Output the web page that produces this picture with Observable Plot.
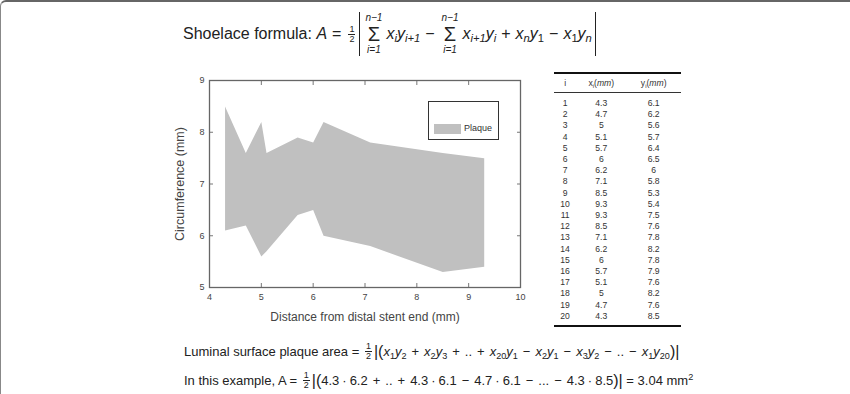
<!DOCTYPE html>
<html>
<head>
<meta charset="utf-8">
<script src="https://cdn.jsdelivr.net/npm/d3@7"></script>
<script src="https://cdn.jsdelivr.net/npm/@observablehq/plot@0.6"></script>
<style>
  html, body { margin: 0; padding: 0; background: #fff; }
  #page { position: relative; width: 850px; height: 394px; overflow: hidden; font-family: "Liberation Sans", Arial, sans-serif; color: #222; box-sizing: border-box; border-left: 1px solid #888; border-top: 2px solid #666; border-top-left-radius: 6px; }
  .abs-pos { position: absolute; }
  #f1 { left: 182px; top: 9px; height: 46px; display: flex; align-items: center; font-size: 16px; white-space: nowrap; }
  .m { font-style: italic; }
  sub { font-size: 0.7em; vertical-align: -0.3em; line-height: 0; }
  sup { font-size: 0.7em; vertical-align: 0.5em; line-height: 0; }
  .frac { display: inline-flex; flex-direction: column; align-items: center; vertical-align: middle; font-size: 9px; line-height: 1; margin: 0 2px; }
  .frac span:first-child { border-bottom: 1px solid #222; padding: 0 1px; }
  .abs { display: inline-flex; align-items: center; border-left: 1px solid #222; border-right: 1px solid #222; height: 44px; padding: 0 3px 0 3px; margin-left: 2px; }
  .sum { display: inline-flex; flex-direction: column; align-items: center; justify-content: center; height: 44px; margin: 0 4px 0 2px; }
  .sum .lim { font-size: 10px; font-style: italic; line-height: 10px; height: 10px; }
  .sum .sig { font-size: 20px; line-height: 22px; height: 22px; font-style: normal; }
  .op { margin: 0 5px; }
  #chart { left: 150px; top: 65px; }
  #legend { left: 427px; top: 99px; width: 71px; height: 39px; border: 1px solid #333; box-sizing: border-box; background: #fff; }
  #legend .sw { position: absolute; left: 5px; top: 22px; width: 27px; height: 10px; background: #c0c0c0; }
  #legend .lb { position: absolute; left: 35px; top: 21px; font-size: 9px; color: #333; }
  #tbl { left: 553px; top: 70px; width: 127px; font-size: 8.6px; color: #333; }
  #tbl table { border-collapse: collapse; width: 100%; table-layout: fixed; border-top: 2px solid #111; border-bottom: 2px solid #111; }
  #tbl th { font-weight: normal; height: 18px; padding: 0; border-bottom: 1px solid #333; text-align: center; }
  #tbl td { height: 11.2px; padding: 0; text-align: center; line-height: 11.2px; }
  #tbl tr.first td { padding-top: 5px; }
  #tbl tr.last td { padding-bottom: 3px; }
  .bl { font-size: 13px; white-space: nowrap; display: flex; align-items: center; }
  #b1 { left: 183px; top: 340px; }
  #b2 { left: 183px; top: 369px; }
  .bar { font-size: 16px; }
  .dot { margin: 0 3px; }
  svg [aria-label="y-axis label"] { font-size: 12.5px; }
  svg [aria-label="x-axis label"] { font-size: 12px; }
</style>
</head>
<body>
<div id="page">
  <div id="f1" class="abs-pos">
    <span>Shoelace formula:&nbsp;</span><span class="m">A</span><span class="op">=</span><span class="frac"><span>1</span><span>2</span></span>
    <span class="abs">
      <span class="sum"><span class="lim">n−1</span><span class="sig">Σ</span><span class="lim">i=1</span></span>
      <span class="m">x<sub>i</sub>y<sub>i+1</sub></span>
      <span class="op">−</span>
      <span class="sum"><span class="lim">n−1</span><span class="sig">Σ</span><span class="lim">i=1</span></span>
      <span class="m">x<sub>i+1</sub>y<sub>i</sub></span>
      <span class="op">+</span>
      <span class="m">x<sub>n</sub>y<sub style="font-style:normal">1</sub></span>
      <span class="op">−</span>
      <span class="m">x<sub style="font-style:normal">1</sub>y<sub>n</sub></span>
    </span>
  </div>

  <div id="chart" class="abs-pos"></div>
  <div id="legend" class="abs-pos"><div class="sw"></div><div class="lb">Plaque</div></div>
  <div id="tbl" class="abs-pos"></div>

  <div id="b1" class="abs-pos bl">
    <span>Luminal surface plaque area =&nbsp;</span><span class="frac"><span>1</span><span>2</span></span>
    <span class="bar">|(</span>
    <span class="m">x<sub style="font-style:normal">1</sub>y<sub style="font-style:normal">2</sub></span><span class="op">+</span>
    <span class="m">x<sub style="font-style:normal">2</sub>y<sub style="font-style:normal">3</sub></span><span class="op">+</span><span>..</span><span class="op">+</span>
    <span class="m">x<sub style="font-style:normal">20</sub>y<sub style="font-style:normal">1</sub></span><span class="op">−</span>
    <span class="m">x<sub style="font-style:normal">2</sub>y<sub style="font-style:normal">1</sub></span><span class="op">−</span>
    <span class="m">x<sub style="font-style:normal">3</sub>y<sub style="font-style:normal">2</sub></span><span class="op">−</span><span>..</span><span class="op">−</span>
    <span class="m">x<sub style="font-style:normal">1</sub>y<sub style="font-style:normal">20</sub></span>
    <span class="bar">)|</span>
  </div>
  <div id="b2" class="abs-pos bl">
    <span>In this example, A =&nbsp;</span><span class="frac"><span>1</span><span>2</span></span>
    <span class="bar">|(</span>
    <span>4.3</span><span class="dot">·</span><span>6.2</span><span class="op">+</span><span>..</span><span class="op">+</span><span>4.3</span><span class="dot">·</span><span>6.1</span><span class="op">−</span><span>4.7</span><span class="dot">·</span><span>6.1</span><span class="op">−</span><span>...</span><span class="op">−</span><span>4.3</span><span class="dot">·</span><span>8.5</span>
    <span class="bar">)|</span><span>&nbsp;= 3.04 mm<sup>2</sup></span>
  </div>
</div>
<script>
// ---- data ----
const pointIndex = [1,2,3,4,5,6,7,8,9,10,11,12,13,14,15,16,17,18,19,20];
const xValues = [4.3,4.7,5,5.1,5.7,6,6.2,7.1,8.5,9.3,9.3,8.5,7.1,6.2,6,5.7,5.1,5,4.7,4.3];
const yValues = [6.1,6.2,5.6,5.7,6.4,6.5,6,5.8,5.3,5.4,7.5,7.6,7.8,8.2,7.8,7.9,7.6,8.2,7.6,8.5];
const xTicks = [4,5,6,7,8,9,10];
const yTicks = [5,6,7,8,9];
const xLabel = "Distance from distal stent end (mm)";
const yLabel = "Circumference (mm)";
const seriesName = "Plaque";

const points = pointIndex.map((i, k) => ({i, x: xValues[k], y: yValues[k]}));
const fmt = d => String(d);

const chart = Plot.plot({
  width: 390,
  height: 265,
  marginLeft: 58,
  marginRight: 21,
  marginTop: 13,
  marginBottom: 45,
  style: {fontFamily: "Liberation Sans, Arial, sans-serif", fontSize: "9px", color: "#444", background: "transparent"},
  x: {domain: [4, 10]},
  y: {domain: [5, 9]},
  marks: [
    Plot.line(points, {x: "x", y: "y", fill: "#c0c0c0", stroke: "none"}),
    Plot.axisX({anchor: "bottom", ticks: xTicks, tickFormat: fmt, tickSize: -4, tickPadding: 10, stroke: "#777", fill: "#444", label: xLabel, labelAnchor: "center", labelOffset: 33, labelArrow: "none"}),
    Plot.axisX({anchor: "top", ticks: xTicks, tickSize: -4, stroke: "#777", fill: "none", label: null}),
    Plot.axisY({anchor: "left", ticks: yTicks, tickFormat: fmt, tickSize: -4, tickPadding: 9, stroke: "#777", fill: "#444", label: yLabel, labelAnchor: "center", labelOffset: 34, labelArrow: "none"}),
    Plot.axisY({anchor: "right", ticks: yTicks, tickSize: -4, stroke: "#777", fill: "none", label: null}),
    Plot.frame({stroke: "#666", strokeWidth: 1.3})
  ]
});
document.getElementById("chart").appendChild(chart);

// table
const tbl = document.createElement("table");
tbl.innerHTML = `<thead><tr><th style="width:17.5%">i</th><th style="width:39.5%">x<sub>i</sub>(<i>mm</i>)</th><th style="width:43%">y<sub>i</sub>(<i>mm</i>)</th></tr></thead>`;
const tb = document.createElement("tbody");
points.forEach((p, k) => {
  const tr = document.createElement("tr");
  if (k === 0) tr.className = "first";
  if (k === points.length - 1) tr.className = "last";
  tr.innerHTML = `<td>${p.i}</td><td>${p.x}</td><td>${p.y}</td>`;
  tb.appendChild(tr);
});
tbl.appendChild(tb);
document.getElementById("tbl").appendChild(tbl);
document.querySelector("#legend .lb").textContent = seriesName;
</script>
</body>
</html>
